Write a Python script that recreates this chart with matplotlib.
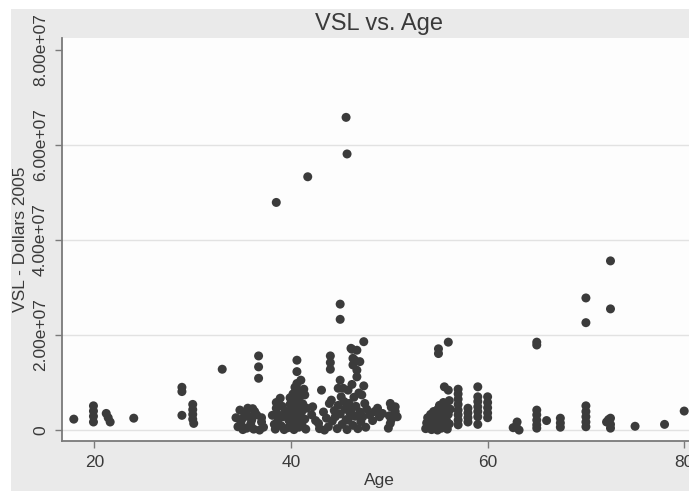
import matplotlib
matplotlib.use("Agg")
import matplotlib.pyplot as plt
import matplotlib.patches as mpatches
import numpy as np

plt.rcParams["font.family"] = ["Liberation Sans", "DejaVu Sans"]

# (age, VSL in millions of 2005 dollars)
age = [
    17.9, 19.9, 19.9, 19.9, 19.9, 21.2, 21.4, 21.6, 24.0,
    28.9, 28.9, 28.9, 30.0, 30.0, 30.0, 30.0, 30.1, 33.0,
    34.4, 34.6, 34.8, 34.9, 35.1, 35.1, 35.3, 35.5, 35.6, 35.7, 35.9, 36.0,
    36.1, 36.3, 36.2, 36.5, 36.7, 36.7, 36.7, 36.8, 37.0, 37.0, 37.2,
    38.1, 38.3, 38.4, 38.5, 38.5, 38.6, 38.7, 38.9, 39.0, 39.1, 39.2, 39.3,
    39.4, 38.5,
    39.7, 39.8, 39.8, 39.9, 39.9, 40.0, 40.1, 40.2, 40.2, 40.3, 40.4, 40.4,
    40.5, 40.6, 40.6, 40.6, 40.6, 40.7, 40.7, 40.8, 40.8, 40.9, 41.0, 41.0,
    41.1, 41.1, 41.2, 41.3, 41.4, 41.4, 41.5, 41.6, 41.7,
    42.1, 42.2, 42.5, 42.8, 42.9, 43.1, 43.4, 43.3, 43.6, 43.8, 43.9, 44.0,
    44.0, 44.0, 44.1, 44.2, 44.4, 44.5,
    44.7, 44.8, 44.8, 45.0, 45.0, 45.0, 45.0, 45.1, 45.2, 45.3, 45.4, 45.5,
    45.6, 45.6, 45.7, 45.7, 45.8, 45.8, 45.9, 46.0, 46.1, 46.1, 46.2, 46.2,
    46.3, 46.3, 46.3, 46.4, 46.5, 46.5, 46.6, 46.7, 46.7, 46.7, 46.8, 46.9,
    47.0, 47.0, 47.1, 47.2, 47.3, 47.4, 47.4, 47.5, 47.6, 47.7,
    48.0, 48.3, 48.5, 48.8, 49.0, 49.3, 49.9, 50.0, 50.1, 50.1, 50.2, 50.2,
    50.6, 50.6, 50.8,
    53.7, 53.8, 53.9, 54.0, 54.1, 54.2, 54.3, 54.4, 54.5, 54.5, 54.6, 54.7,
    54.8, 54.9, 54.9, 55.0, 55.0, 55.0, 55.1, 55.1, 55.2, 55.3, 55.3, 55.4,
    55.5, 55.5, 55.6, 55.6, 55.7, 55.8, 55.8, 55.9, 56.0, 56.0, 56.0, 56.1,
    56.1, 56.2,
    57.0, 57.0, 57.0, 57.0, 57.0, 57.0, 57.0, 57.0,
    58.0, 58.0, 58.0, 58.0,
    59.0, 59.0, 59.0, 59.0, 59.0, 59.0, 59.0,
    60.0, 60.0, 60.0, 60.0, 60.0,
    62.6, 62.9, 63.0, 63.2,
    65.0, 65.0, 65.0, 65.0, 65.0, 65.0, 65.0, 66.0,
    67.4, 67.4, 67.4,
    70.0, 70.0, 70.0, 70.0, 70.0, 70.0, 70.0,
    72.5, 72.5, 72.1, 72.3, 72.5, 72.5, 72.5,
    75.0, 78.0, 80.0,
]
vsl_m = [
    2.3, 5.1, 4.0, 2.9, 1.7, 3.5, 2.6, 1.7, 2.5,
    9.0, 8.1, 3.1, 5.4, 4.3, 3.3, 2.3, 1.4, 12.8,
    2.6, 0.7, 4.2, 1.5, 2.5, 0.1, 3.6, 0.4, 4.6, 2.9, 1.3, 2.1,
    4.5, 3.9, 0.2, 3.2, 15.6, 13.3, 10.9, 0.0, 1.7, 2.6, 0.6,
    3.1, 1.2, 0.2, 5.8, 4.6, 3.4, 2.2, 6.7, 0.9, 5.0, 2.8, 0.1,
    4.0, 47.9,
    0.5, 2.0, 3.6, 5.4, 6.8, 1.1, 4.4, 2.8, 7.6, 0.1, 5.9, 9.0,
    3.5, 1.8, 14.7, 12.3, 9.8, 8.4, 6.4, 4.8, 0.6, 2.6, 7.2, 10.5,
    3.9, 1.2, 5.5, 8.6, 7.4, 2.3, 0.2, 4.6, 53.3,
    3.2, 4.9, 2.0, 1.4, 0.3, 8.4, 0.0, 3.8, 2.5, 0.7, 5.6, 15.6,
    14.2, 12.8, 6.3, 1.9, 4.1, 2.8,
    0.3, 8.8, 5.2, 26.5, 23.3, 10.5, 3.4, 7.0, 1.2, 8.8, 6.0, 4.4,
    65.8, 2.2, 58.1, 0.1, 8.4, 2.1, 5.6, 3.6, 17.2, 4.2, 17.0, 9.6,
    15.1, 13.7, 1.0, 6.9, 14.7, 2.9, 5.0, 16.8, 12.6, 11.2, 0.3, 7.8,
    14.4, 3.8, 1.8, 7.4, 2.8, 18.6, 9.3, 5.6, 0.6, 4.4,
    3.2, 2.0, 3.9, 4.6, 2.8, 3.5, 0.4, 3.0, 5.6, 1.4, 4.8, 2.2,
    4.9, 3.9, 2.8,
    0.3, 1.5, 2.6, 0.8, 2.0, 3.3, 0.1, 1.2, 2.6, 3.9, 0.5, 1.8,
    3.0, 4.3, 0.0, 1.1, 17.1, 16.1, 2.4, 5.2, 3.6, 0.4, 4.6, 1.6,
    2.9, 5.8, 9.1, 0.9, 4.0, 2.1, 5.0, 0.2, 18.5, 8.4, 3.3, 1.3,
    6.2, 4.4,
    8.6, 7.6, 6.5, 5.4, 4.2, 3.2, 2.1, 1.1,
    4.6, 3.6, 2.6, 1.7,
    9.1, 7.0, 6.0, 4.9, 3.9, 2.8, 1.2,
    7.0, 5.8, 4.7, 3.6, 2.6,
    0.5, 0.8, 1.7, 0.0,
    18.5, 17.9, 4.2, 3.2, 2.1, 1.1, 0.4, 2.0,
    2.5, 1.5, 0.6,
    27.8, 22.6, 5.1, 3.9, 2.8, 1.7, 0.7,
    35.6, 25.5, 1.7, 2.2, 2.5, 1.2, 0.4,
    0.8, 1.2, 4.0,
]
x_ticks = [20, 40, 60, 80]
y_ticks = [0, 2e7, 4e7, 6e7, 8e7]
y_ticklabels = ["0", "2.00e+07", "4.00e+07", "6.00e+07", "8.00e+07"]

W, H = 689, 491
fig = plt.figure(figsize=(W / 100, H / 100), dpi=100, facecolor="white")
# stata-style grey graph region (offset a little from the image edge)
fig.patches.append(mpatches.Rectangle((11 / W, 0), 1, 1 - 9 / H, transform=fig.transFigure,
                                      facecolor="#eaeaea", edgecolor="none", zorder=-1))

left, right, top, bottom = 62, 696, 38, 441
ax = fig.add_axes([left / W, 1 - bottom / H, (right - left) / W, (bottom - top) / H])
ax.set_facecolor("#fdfdfd")

ax.scatter(age, np.array(vsl_m) * 1e6, s=42, color="#3b3b3b", edgecolors="none", zorder=3)

ax.set_xlim(16.7, 81.2)
ax.set_ylim(-2.3e6, 82.5e6)
ax.set_xticks(x_ticks)
ax.set_yticks(y_ticks)
ax.set_yticklabels(y_ticklabels, rotation=90, va="center")
for v in y_ticks[:-1]:
    ax.axhline(v, color="#e2e2e2", lw=1.0, zorder=1)

for s in ("top", "right"):
    ax.spines[s].set_visible(False)
for s in ("left", "bottom"):
    ax.spines[s].set_color("#7a7a7a")
    ax.spines[s].set_linewidth(1.3)
ax.tick_params(colors="#7a7a7a", labelcolor="#3a3a3a", length=5, width=1.0,
               labelsize=12.5, pad=5)

ax.set_xlabel("Age", fontsize=12.5, color="#3a3a3a", labelpad=2)
ax.set_ylabel("VSL - Dollars 2005", fontsize=12.5, color="#3a3a3a", labelpad=4)
fig.text((left + right) / 2 / W, 1 - 30 / H, "VSL vs. Age", ha="center", va="baseline",
         fontsize=17, color="#3a3a3a")

fig.savefig("out.png", dpi=100, facecolor=fig.get_facecolor())
